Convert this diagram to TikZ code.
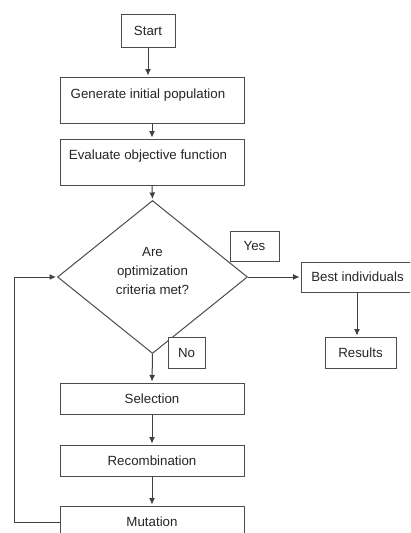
\documentclass[tikz,border=0pt]{standalone}
\usepackage{fontspec}
\setmainfont{Liberation Sans}
\usetikzlibrary{shapes.geometric,arrows.meta}
\begin{document}
\begin{tikzpicture}[x=1pt,y=-1pt,
  line width=1pt,
  every node/.style={font=\fontsize{13.3}{19}\selectfont, text=black!85},
  box/.style={draw=black!70, fill=white, rectangle, inner sep=0pt},
  txt/.style={inner sep=0pt, align=center},
  conn/.style={draw=black!75, shorten >=1pt, -{Latex[length=6.5pt,width=6pt]}},
]
\useasboundingbox (0,0) rectangle (410,533);
\clip (0,0) rectangle (410,533);
\fill[white] (0,0) rectangle (410,533);

\node[box, minimum width=54pt, minimum height=33pt] (start) at (148,30.5) {Start};
\node[box, minimum width=184pt, minimum height=46pt] (gen) at (152,100) {};
\node[txt] (gentext) at (148,95) {Generate initial population};
\node[box, minimum width=184pt, minimum height=46pt] (eval) at (152,162) {};
\node[txt] (evaltext) at (148,156) {Evaluate objective function};
\node[draw=black!70, diamond, minimum width=190pt, minimum height=153pt, inner sep=0pt] (dia) at (152.5,277) {};
\node[txt] (diatext) at (152.5,271) {Are\\optimization\\criteria met?};
\node[box, minimum width=49pt, minimum height=30pt] (yes) at (254.5,246) {Yes};
\node[box, minimum width=112pt, minimum height=30pt] (best) at (357,277) {};
\node[txt] (besttext) at (357.5,277) {Best individuals};
\node[box, minimum width=71pt, minimum height=31pt] (res) at (360.5,352.5) {Results};
\node[box, minimum width=37pt, minimum height=31pt] (no) at (186.5,352.5) {No};
\node[box, minimum width=184pt, minimum height=31pt] (sel) at (152,398.5) {Selection};
\node[box, minimum width=184pt, minimum height=31pt] (rec) at (152,460.5) {Recombination};
\node[box, minimum width=184pt, minimum height=32pt] (mut) at (152,522) {Mutation};
\coordinate (loop) at (14,522);

\draw[conn] (start.south) -- (gen.north -| start.south);
\draw[conn] (gen.south) -- (eval.north);
\draw[conn] (eval.south) -- (dia.north);
\draw[conn] (dia.east) -- (best.west);
\draw[conn] (best.south) -- (best.south |- res.north);
\draw[conn] (dia.south) -- (sel.north);
\draw[conn] (sel.south) -- (rec.north);
\draw[conn] (rec.south) -- (mut.north);
\draw[conn] (mut.west) -- (loop) |- (dia.west);
\end{tikzpicture}
\end{document}
